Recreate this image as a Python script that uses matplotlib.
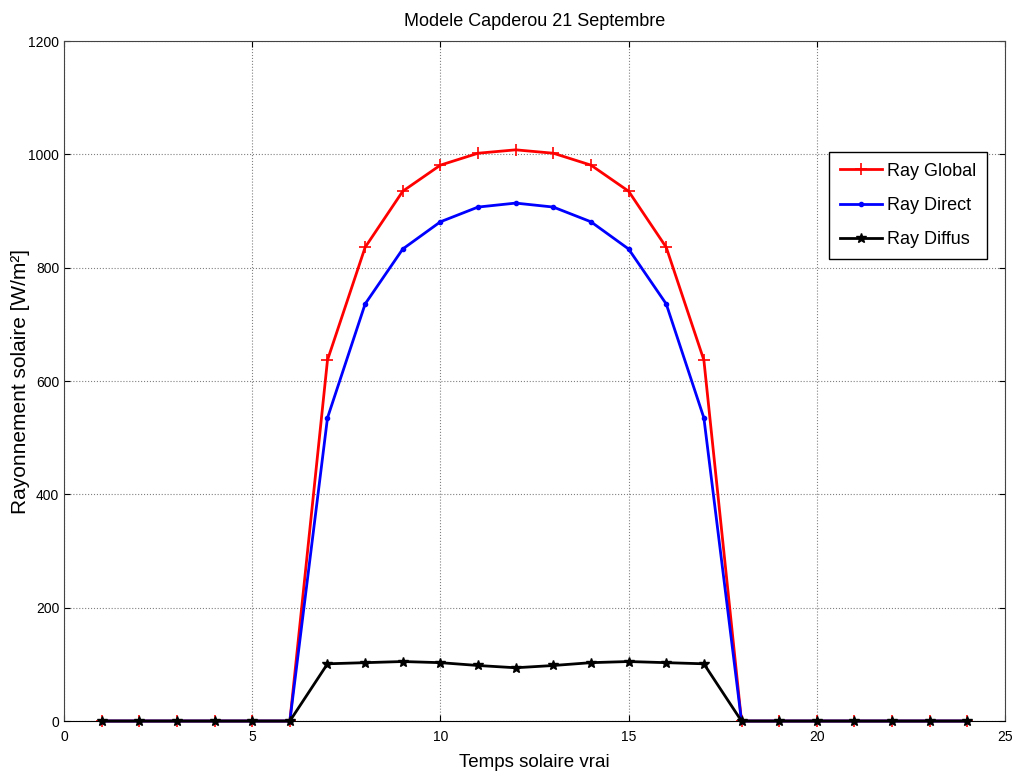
import matplotlib
matplotlib.use('Agg')
import matplotlib.pyplot as plt
import numpy as np

# heures (temps solaire vrai)
heures = list(range(1, 25))
ray_global = [0, 0, 0, 0, 0, 0, 637, 836, 935, 981, 1002, 1008,
              1002, 981, 935, 836, 637, 0, 0, 0, 0, 0, 0, 0]
ray_direct = [0, 0, 0, 0, 0, 0, 535, 736, 833, 881, 907, 914,
              907, 881, 833, 736, 535, 0, 0, 0, 0, 0, 0, 0]
ray_diffus = [0, 0, 0, 0, 0, 0, 101, 103, 105, 103, 98, 94,
              98, 103, 105, 103, 101, 0, 0, 0, 0, 0, 0, 0]

fam = ['Liberation Sans', 'DejaVu Sans']

fig = plt.figure(figsize=(10.18, 7.80), dpi=100)
ax = fig.add_axes([0.0629, 0.0756, 0.9243, 0.8718])

ax.plot(heures, ray_global, color='red', marker='+', markersize=8,
        markeredgewidth=1.2, linewidth=2, label='Ray Global', clip_on=False)
ax.plot(heures, ray_direct, color='blue', marker='.', markersize=6,
        linewidth=2, label='Ray Direct', clip_on=False)
ax.plot(heures, ray_diffus, color='black', marker='*', markersize=7,
        linewidth=2, label='Ray Diffus', clip_on=False)

ax.set_xlim(0, 25)
ax.set_ylim(0, 1200)
ax.set_xticks(np.arange(0, 26, 5))
ax.set_yticks(np.arange(0, 1201, 200))
ax.grid(True, linestyle=':', color='#808080', linewidth=0.8)
ax.tick_params(direction='in', length=4, labelsize=10, top=True, right=True)
ax.tick_params(axis='x', pad=6.5)
for lab in ax.get_xticklabels() + ax.get_yticklabels():
    lab.set_family(fam)
for sp in ax.spines.values():
    sp.set_color('#444444')
ax.spines['bottom'].set_color('black')

ax.set_title('Modele Capderou 21 Septembre', fontsize=13, family=fam, pad=10.5)
ax.set_xlabel('Temps solaire vrai', fontsize=13.5, family=fam, labelpad=7)
ax.set_ylabel('Rayonnement solaire [W/m²]', fontsize=15, family=fam)
ax.yaxis.set_label_coords(-0.036, 0.5)

leg = ax.legend(loc='upper right', bbox_to_anchor=(0.981, 0.837),
                fancybox=False, edgecolor='black', framealpha=1,
                prop={'family': fam, 'size': 13}, handlelength=2.3,
                handletextpad=0.3, labelspacing=0.95, borderpad=0.6,
                borderaxespad=0)
leg.get_frame().set_linewidth(1)

fig.savefig('out.png', dpi=100)
